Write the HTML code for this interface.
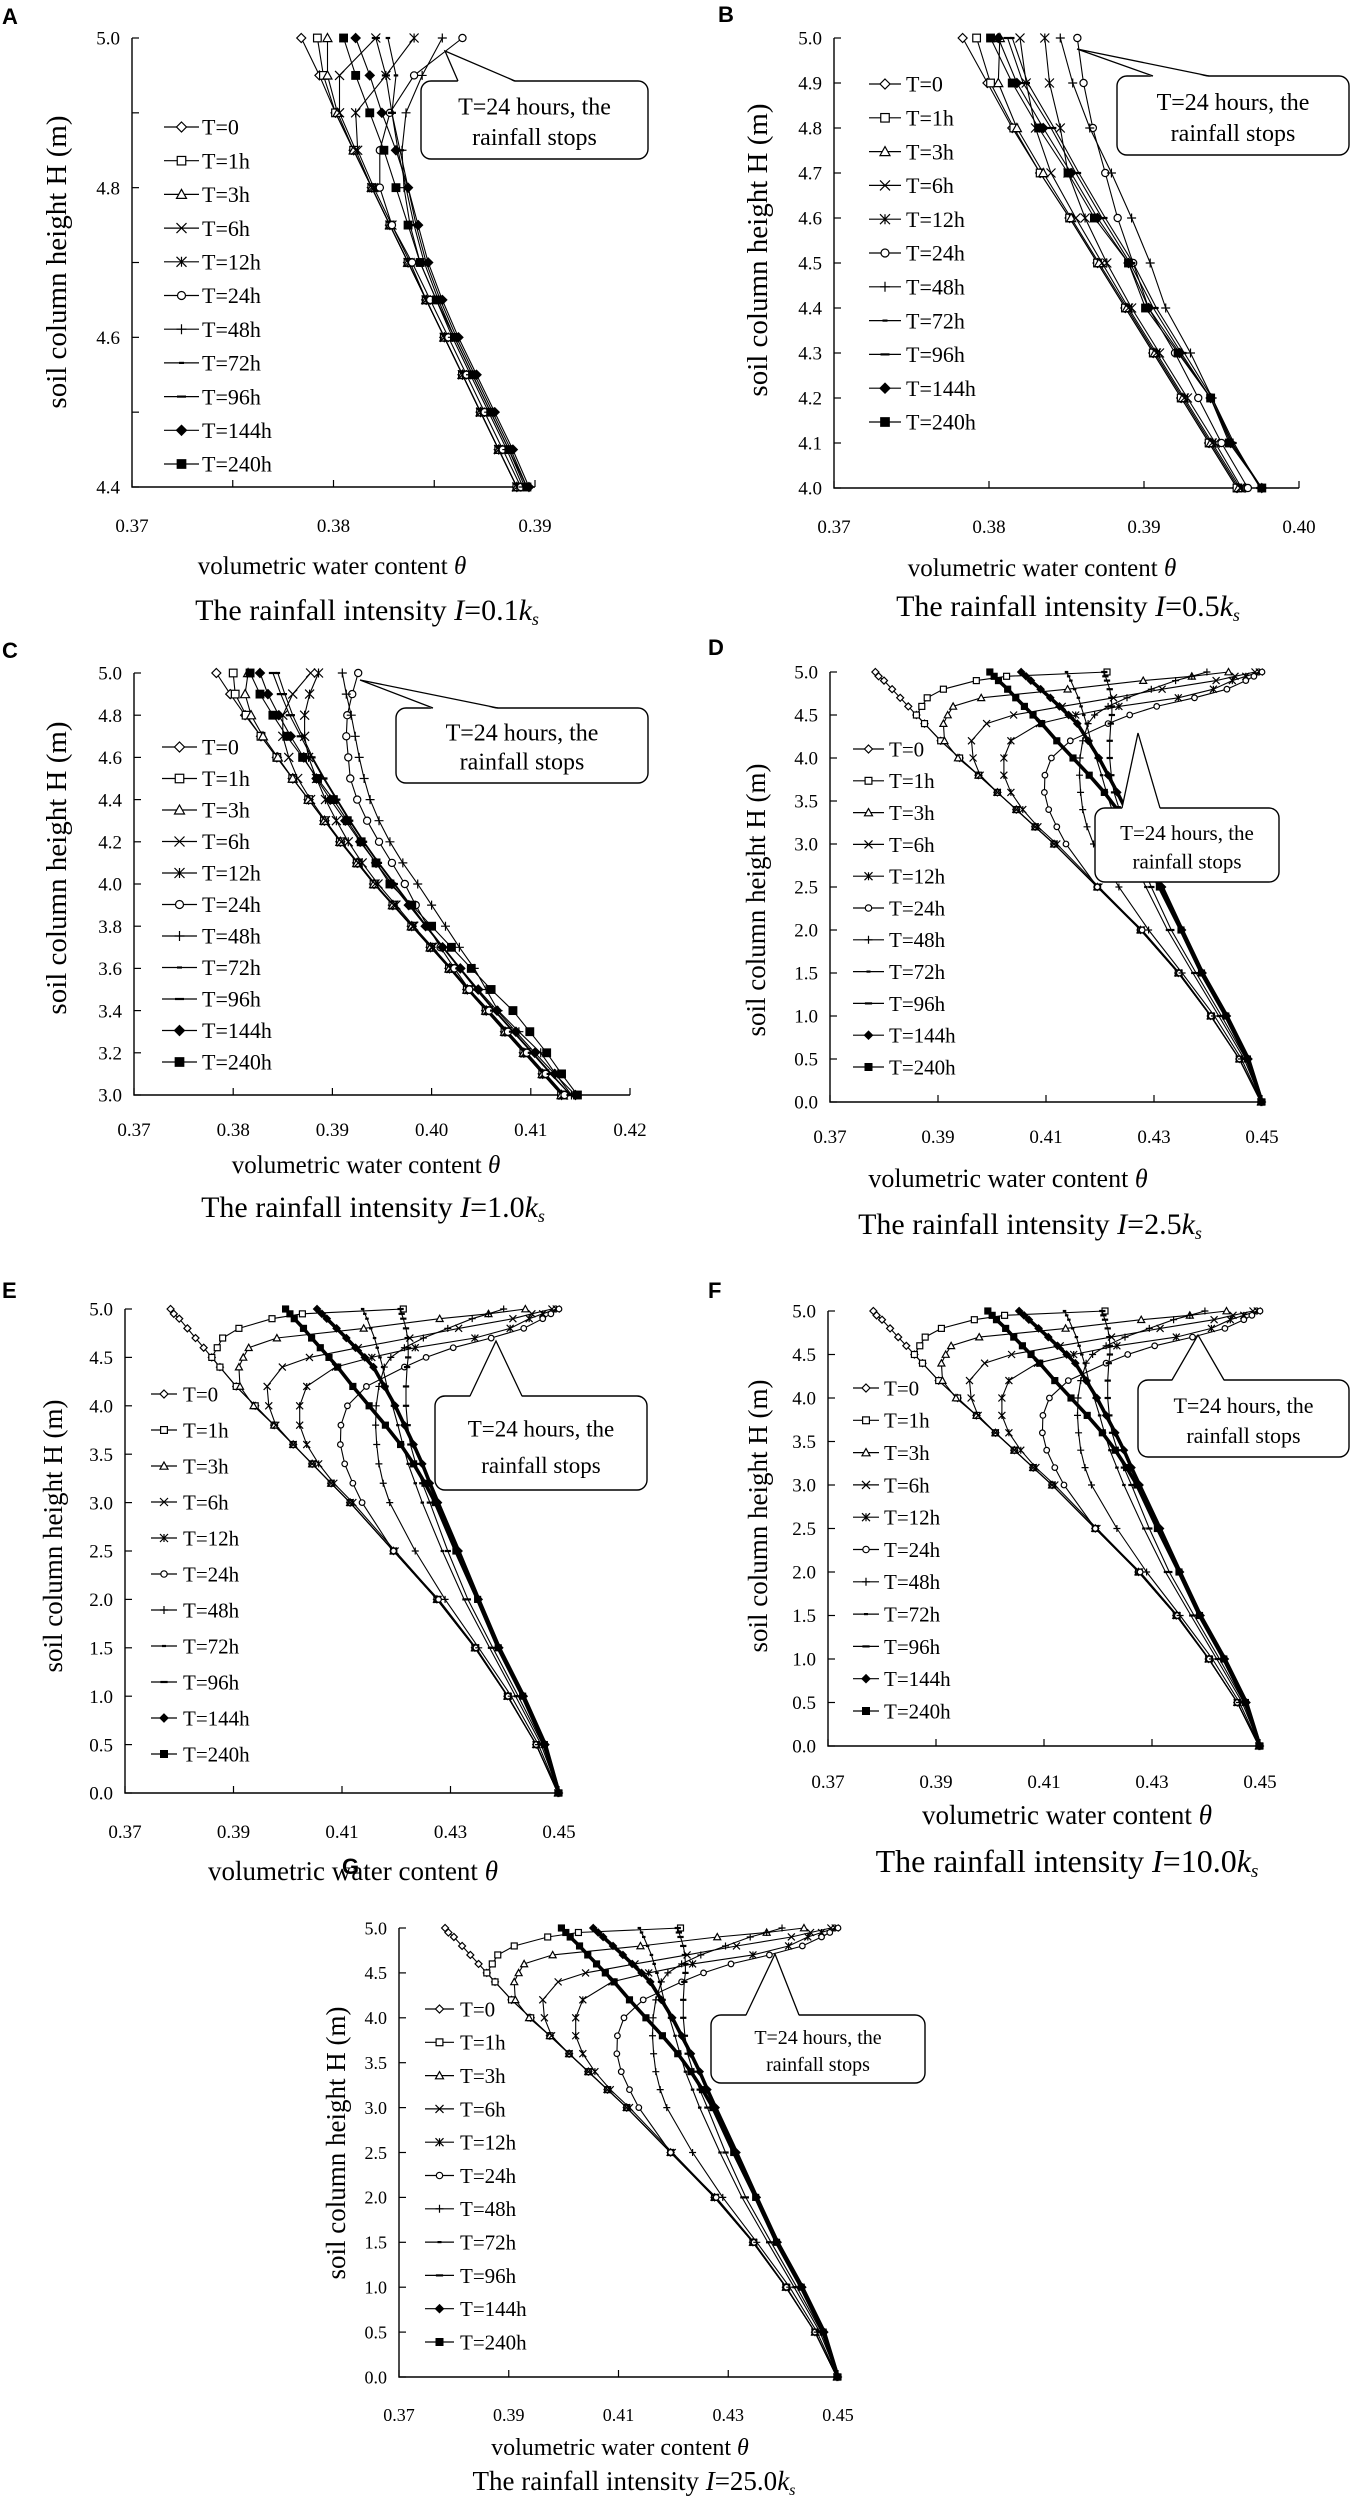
<!DOCTYPE html>
<html><head><meta charset="utf-8">
<style>
html,body{margin:0;padding:0;background:#fff;}
svg{display:block;}
text{font-family:"Liberation Serif",serif;fill:#000;}
.lt{font-family:"Liberation Sans",sans-serif;font-weight:bold;}
</style></head>
<body>
<svg id="fig" width="1352" height="2500" viewBox="0 0 1352 2500" xmlns="http://www.w3.org/2000/svg"></svg>
<script>
// ---------- Data (theta values, top to bottom) ----------
const seriesNames = ['T=0','T=1h','T=3h','T=6h','T=12h','T=24h','T=48h','T=72h','T=96h','T=144h','T=240h'];
const markerTypes = ['diamond','square','triangle','x','star','circle','plus','dash','dash2','fdiamond','fsquare'];

// Panel A: I=0.1ks, heights 5.0 -> 4.4
const heightsA = [5.0,4.95,4.9,4.85,4.8,4.75,4.7,4.65,4.6,4.55,4.5,4.45,4.4];
const panelA_T0   = [.3784,.3793,.3801,.3810,.3819,.3828,.3837,.3846,.3855,.3864,.3873,.3882,.3891];
const panelA_T1   = [.3792,.3795,.3801,.3810,.3819,.3828,.3837,.3846,.3855,.3864,.3873,.3882,.3891];
const panelA_T3   = [.3797,.3797,.3802,.3810,.3819,.3828,.3837,.3846,.3855,.3864,.3873,.3882,.3891];
const panelA_T6   = [.3821,.3803,.3803,.3811,.3819,.3828,.3837,.3846,.3855,.3864,.3873,.3882,.3891];
const panelA_T12  = [.3840,.3826,.3811,.3812,.3820,.3829,.3838,.3846,.3855,.3864,.3873,.3882,.3891];
const panelA_T24  = [.3864,.3840,.3828,.3823,.3823,.3829,.3839,.3848,.3857,.3866,.3875,.3884,.3893];
const panelA_T48  = [.3854,.3844,.3836,.3834,.3835,.3838,.3843,.3851,.3859,.3868,.3877,.3886,.3894];
const panelA_T72  = [.3827,.3831,.3829,.3832,.3836,.3840,.3845,.3852,.3860,.3869,.3878,.3887,.3895];
const panelA_T96  = [.3821,.3826,.3829,.3833,.3837,.3841,.3846,.3853,.3861,.3870,.3879,.3888,.3896];
const panelA_T144 = [.3811,.3818,.3824,.3831,.3837,.3842,.3847,.3854,.3862,.3871,.3880,.3889,.3897];
const panelA_T240 = [.3805,.3811,.3818,.3825,.3831,.3837,.3843,.3851,.3860,.3869,.3878,.3887,.3896];

// Panel B: I=0.5ks, heights 5.0 -> 4.0
const heightsB = [5.0,4.9,4.8,4.7,4.6,4.5,4.4,4.3,4.2,4.1,4.0];
const panelB_T0   = [.3783,.3799,.3815,.3833,.3852,.3870,.3888,.3906,.3924,.3942,.3960];
const panelB_T1   = [.3792,.3801,.3816,.3833,.3852,.3870,.3888,.3906,.3924,.3942,.3960];
const panelB_T3   = [.3807,.3806,.3818,.3835,.3853,.3871,.3889,.3907,.3925,.3943,.3961];
const panelB_T6   = [.3820,.3824,.3830,.3840,.3856,.3873,.3890,.3908,.3926,.3944,.3962];
const panelB_T12  = [.3836,.3839,.3846,.3851,.3862,.3876,.3892,.3910,.3928,.3946,.3963];
const panelB_T24  = [.3857,.3861,.3867,.3875,.3883,.3893,.3903,.3920,.3935,.3950,.3967];
const panelB_T48  = [.3846,.3854,.3865,.3879,.3892,.3904,.3914,.3930,.3944,.3957,.3976];
const panelB_T72  = [.3815,.3825,.3842,.3858,.3875,.3893,.3908,.3926,.3944,.3958,.3975];
const panelB_T96  = [.3812,.3822,.3840,.3856,.3873,.3891,.3906,.3924,.3943,.3957,.3975];
const panelB_T144 = [.3806,.3818,.3835,.3853,.3870,.3890,.3903,.3923,.3943,.3956,.3976];
const panelB_T240 = [.3801,.3815,.3832,.3851,.3868,.3890,.3901,.3922,.3943,.3955,.3976];

// Panel C: I=1.0ks, heights 5.0 -> 3.0
const heightsC = [5.0,4.9,4.8,4.7,4.6,4.5,4.4,4.3,4.2,4.1,4.0,3.9,3.8,3.7,3.6,3.5,3.4,3.3,3.2,3.1,3.0];
const panelC_T0   = [.3783,.3797,.3812,.3828,.3844,.3860,.3876,.3892,.3908,.3925,.3942,.3961,.3980,.3999,.4018,.4036,.4055,.4074,.4093,.4112,.4131];
const panelC_T1   = [.3800,.3802,.3813,.3828,.3844,.3860,.3876,.3892,.3908,.3925,.3942,.3961,.3980,.3999,.4018,.4036,.4055,.4074,.4093,.4112,.4131];
const panelC_T3   = [.3815,.3812,.3818,.3830,.3845,.3860,.3876,.3892,.3908,.3925,.3942,.3961,.3980,.3999,.4018,.4036,.4055,.4074,.4093,.4112,.4131];
const panelC_T6   = [.3878,.3860,.3850,.3850,.3856,.3865,.3878,.3893,.3909,.3926,.3943,.3962,.3981,.4000,.4019,.4037,.4056,.4075,.4094,.4113,.4132];
const panelC_T12  = [.3886,.3877,.3872,.3872,.3876,.3884,.3893,.3904,.3916,.3930,.3946,.3964,.3982,.4001,.4020,.4038,.4057,.4076,.4095,.4114,.4133];
const panelC_T24  = [.3926,.3920,.3915,.3914,.3916,.3918,.3925,.3935,.3947,.3960,.3973,.3984,.3996,.4009,.4023,.4038,.4058,.4077,.4096,.4115,.4134];
const panelC_T48  = [.3910,.3914,.3919,.3923,.3927,.3932,.3938,.3947,.3958,.3971,.3986,.4000,.4014,.4028,.4043,.4055,.4067,.4088,.4110,.4125,.4141];
const panelC_T72  = [.3845,.3852,.3860,.3870,.3880,.3892,.3905,.3918,.3932,.3947,.3963,.3979,.3995,.4012,.4029,.4046,.4064,.4083,.4102,.4121,.4140];
const panelC_T96  = [.3840,.3848,.3857,.3868,.3879,.3891,.3904,.3917,.3931,.3946,.3962,.3978,.3994,.4011,.4028,.4045,.4063,.4082,.4101,.4120,.4140];
const panelC_T144 = [.3827,.3835,.3846,.3858,.3871,.3884,.3898,.3913,.3928,.3944,.3960,.3977,.3994,.4011,.4029,.4047,.4066,.4085,.4104,.4124,.4145];
const panelC_T240 = [.3817,.3827,.3840,.3854,.3870,.3885,.3901,.3915,.3929,.3944,.3958,.3980,.4000,.4020,.4040,.4060,.4082,.4099,.4116,.4131,.4147];

// Panels D-G: high intensity (2.5, 5, 10, 25 ks) — visually near identical profiles
const heightsHigh = [5.0,4.95,4.9,4.8,4.7,4.6,4.5,4.4,4.2,4.0,3.8,3.6,3.4,3.2,3.0,2.5,2.0,1.5,1.0,0.5,0.0];
const high_T0   = [.3784,.379,.380,.3815,.383,.3845,.386,.3875,.3905,.394,.3975,.401,.4045,.408,.4115,.4195,.4275,.4345,.4405,.4458,.4498];
const high_T1   = [.4213,.4027,.3971,.391,.388,.387,.386,.3875,.3905,.394,.3975,.401,.4045,.408,.4115,.4195,.4275,.4345,.4405,.4458,.4498];
const high_T3   = [.4438,.437,.428,.414,.398,.3928,.3918,.391,.3912,.3937,.3975,.401,.4045,.408,.4115,.4195,.4275,.4345,.4405,.4458,.4498];
const high_T6   = [.4487,.445,.4415,.4315,.4225,.413,.404,.399,.3962,.3965,.3978,.401,.4045,.408,.4115,.4195,.4275,.4345,.4405,.4458,.4498];
const high_T12  = [.4495,.447,.4445,.441,.4345,.4235,.4155,.4088,.4035,.4022,.4022,.4035,.4057,.4085,.412,.4198,.4277,.4346,.4405,.4458,.4498];
const high_T24  = [.45,.4485,.447,.4435,.4375,.4305,.4255,.4215,.4145,.411,.4098,.4097,.4105,.412,.4137,.4195,.4278,.4347,.4406,.4458,.4498];
const high_T48  = [.4398,.437,.434,.4295,.425,.4215,.419,.4178,.4168,.4163,.4162,.4164,.4168,.4176,.4188,.4235,.429,.4352,.4412,.4462,.4499];
const high_T72  = [.4138,.4142,.4146,.4153,.416,.4165,.417,.4175,.4183,.4193,.4203,.4212,.4222,.4235,.4248,.4285,.4325,.4372,.442,.4467,.45];
const high_T96  = [.4208,.421,.4213,.4218,.4221,.4222,.4222,.422,.4218,.4218,.4221,.4226,.4236,.4248,.4262,.4295,.4332,.4378,.4425,.447,.45];
const high_T144 = [.4054,.4063,.4072,.409,.4108,.4125,.4142,.4158,.4178,.4198,.4215,.4232,.4248,.4262,.4277,.4315,.4352,.439,.4435,.4475,.45];
const high_T240 = [.3996,.4004,.4012,.4029,.4044,.406,.4076,.4092,.412,.415,.418,.4208,.4232,.4253,.4272,.431,.435,.4388,.4433,.4473,.45];

// Axis ticks
const xTicksA = [0.37,0.38,0.39], yTicksA = [4.4,4.6,4.8,5.0];
const xTicksB = [0.37,0.38,0.39,0.40], yTicksB = [4.0,4.1,4.2,4.3,4.4,4.5,4.6,4.7,4.8,4.9,5.0];
const xTicksC = [0.37,0.38,0.39,0.40,0.41,0.42], yTicksC = [3.0,3.2,3.4,3.6,3.8,4.0,4.2,4.4,4.6,4.8,5.0];
const xTicksHigh = [0.37,0.39,0.41,0.43,0.45], yTicksHigh = [0.0,0.5,1.0,1.5,2.0,2.5,3.0,3.5,4.0,4.5,5.0];

// ---------- Rendering ----------
const NS = 'http://www.w3.org/2000/svg';
const svg = document.getElementById('fig');
function mk(tag, attrs, parent){
  const e = document.createElementNS(NS, tag);
  for (const k in attrs) e.setAttribute(k, attrs[k]);
  (parent||svg).appendChild(e);
  return e;
}

function marker(g, type, x, y, s){
  const h = s/2; let e;
  const st = {stroke:'#000','stroke-width':1.2, fill:'#fff'};
  if (type==='diamond' || type==='fdiamond'){
    e = mk('polygon', Object.assign({}, st, {points:`${x},${y-h} ${x+h},${y} ${x},${y+h} ${x-h},${y}`, fill: type==='fdiamond'?'#000':'#fff'}), g);
  } else if (type==='square' || type==='fsquare'){
    e = mk('rect', Object.assign({}, st, {x:x-h*0.85, y:y-h*0.85, width:h*1.7, height:h*1.7, fill: type==='fsquare'?'#000':'#fff'}), g);
  } else if (type==='triangle'){
    e = mk('polygon', Object.assign({}, st, {points:`${x},${y-h} ${x+h},${y+h*0.8} ${x-h},${y+h*0.8}`}), g);
  } else if (type==='circle'){
    e = mk('circle', Object.assign({}, st, {cx:x, cy:y, r:h*0.8}), g);
  } else if (type==='x'){
    e = mk('path', {d:`M${x-h},${y-h}L${x+h},${y+h}M${x-h},${y+h}L${x+h},${y-h}`, stroke:'#000','stroke-width':1.2, fill:'none'}, g);
  } else if (type==='star'){
    e = mk('path', {d:`M${x-h},${y-h}L${x+h},${y+h}M${x-h},${y+h}L${x+h},${y-h}M${x},${y-h}L${x},${y+h}`, stroke:'#000','stroke-width':1.2, fill:'none'}, g);
  } else if (type==='plus'){
    e = mk('path', {d:`M${x-h},${y}L${x+h},${y}M${x},${y-h}L${x},${y+h}`, stroke:'#000','stroke-width':1.2, fill:'none'}, g);
  } else if (type==='dash'){
    e = mk('path', {d:`M${x-h*0.5},${y}L${x+h*0.5},${y}`, stroke:'#000','stroke-width':2.2, fill:'none'}, g);
  } else {
    e = mk('path', {d:`M${x-h*0.9},${y}L${x+h*0.9},${y}`, stroke:'#000','stroke-width':2.2, fill:'none'}, g);
  }
  
  
}

function drawPanel(p){
  const g = mk('g', {});
  
  
  const sx = v => p.L + (v - p.xmin)/(p.xmax - p.xmin)*(p.R - p.L);
  const sy = v => p.B - (v - p.ymin)/(p.ymax - p.ymin)*(p.B - p.T);

  const lt = mk('text', {x:p.letter[0], y:p.letter[1], 'font-size':22, class:'lt'}, g);
  lt.textContent = p.id;
  
  

  const ax = mk('path', {d:`M${p.L},${p.T}L${p.L},${p.B}L${p.R},${p.B}`, stroke:'#000', 'stroke-width':1.4, fill:'none'}, g);
  
  
  p.xTickMarks.forEach(v => { mk('line', {x1:sx(v), x2:sx(v), y1:p.B, y2:p.B-7, stroke:'#000','stroke-width':1.2}, g); });
  p.xTicks.forEach(v => {
    const t = mk('text', {x:sx(v), y:p.xLabY, 'font-size':p.fs, 'text-anchor':'middle'}, g);
    t.textContent = v.toFixed(2);
    
    
  });
  p.yTickMarks.forEach(v => { mk('line', {x1:p.L, x2:p.L+7, y1:sy(v), y2:sy(v), stroke:'#000','stroke-width':1.2}, g); });
  p.yTicks.forEach(v => {
    const t = mk('text', {x:p.L-12, y:sy(v)+p.fs*0.35, 'font-size':p.fs, 'text-anchor':'end'}, g);
    t.textContent = v.toFixed(1);
    
    
  });
  const xtitle = mk('text', {x:p.xTitle[0], y:p.xTitle[1], 'font-size':p.tfs, 'text-anchor':'middle'}, g);
  xtitle.innerHTML = 'volumetric water content <tspan font-style="italic">θ</tspan>';
  
  
  const ytitle = mk('text', {x:0, y:0, 'font-size':p.yfs, 'text-anchor':'middle', transform:`translate(${p.yTitle[0]},${p.yTitle[1]}) rotate(-90)`}, g);
  ytitle.textContent = 'soil column height  H (m)';
  
  
  if (p.title){
    const tt = mk('text', {x:p.title[0], y:p.title[1], 'font-size':p.tifs, 'text-anchor':'middle'}, g);
    tt.innerHTML = 'The rainfall intensity <tspan font-style="italic">I</tspan>=' + p.intensity + '<tspan font-style="italic">k</tspan><tspan font-style="italic" font-size="' + (p.tifs*0.6) + '" dy="5">s</tspan>';
    
    
  }

  p.series.forEach((vals, i) => {
    const sg = mk('g', {}, g);
    
    
    const n = Math.min(vals.length, p.heights.length);
    let d = '';
    for (let k=0;k<n;k++){ d += (k?'L':'M') + sx(vals[k]).toFixed(1) + ',' + sy(p.heights[k]).toFixed(1); }
    const thick = p.thick && i >= 9;
    const ln = mk('path', {d:d, stroke:'#000', 'stroke-width': thick ? 3.6 : 1.1, fill:'none'}, sg);
    
    
    for (let k=0;k<n;k++) marker(sg, markerTypes[i], sx(vals[k]), sy(p.heights[k]), p.ms);
  });

  const lg = mk('g', {}, g);
  
  
  seriesNames.forEach((nm, i) => {
    const y = p.leg.y + i*p.leg.step;
    const eg = mk('g', {}, lg);
    
    
    mk('line', {x1:p.leg.x1, x2:p.leg.x2, y1:y, y2:y, stroke:'#000','stroke-width':1.2}, eg);
    marker(eg, markerTypes[i], (p.leg.x1+p.leg.x2)/2, y, p.ms+1);
    const t = mk('text', {x:p.leg.tx, y:y+p.lfs*0.35, 'font-size':p.lfs}, eg);
    t.textContent = nm;
  });

  const c = p.call;
  const cg = mk('g', {}, g);
  
  
  mk('rect', {x:c.x, y:c.y, width:c.w, height:c.h, rx:10, fill:'#fff', stroke:'#000','stroke-width':1.4}, cg);
  mk('polygon', {points:`${c.b1},${c.y+1} ${c.tip[0]},${c.tip[1]} ${c.b2},${c.y+1}`, fill:'#fff', stroke:'none'}, cg);
  mk('path', {d:`M${c.b1},${c.y}L${c.tip[0]},${c.tip[1]}L${c.b2},${c.y}`, fill:'none', stroke:'#000','stroke-width':1.3}, cg);
  const t1 = mk('text', {x:c.x+c.w/2, y:c.y+c.h*0.43, 'font-size':c.fs, 'text-anchor':'middle'}, cg);
  t1.textContent = 'T=24 hours, the';
  const t2 = mk('text', {x:c.x+c.w/2, y:c.y+c.h*0.82, 'font-size':c.fs, 'text-anchor':'middle'}, cg);
  t2.textContent = 'rainfall stops';
}

function range(a,b,s){ const r=[]; for(let v=a; v<=b+1e-9; v+=s) r.push(+v.toFixed(4)); return r; }
const highSeries = [high_T0,high_T1,high_T3,high_T6,high_T12,high_T24,high_T48,high_T72,high_T96,high_T144,high_T240];

const panels = [
 {id:'A', letter:[2,24], L:132,R:535,T:38,B:487, xmin:.37,xmax:.39,ymin:4.4,ymax:5.0,
  xTicks:xTicksA, xTickMarks:range(.37,.39,.005), yTicks:yTicksA, yTickMarks:range(4.4,5.0,0.1),
  xLabY:532, fs:19, tfs:25, yfs:29, tifs:30, lfs:22, ms:9,
  xTitle:[332,574], yTitle:[66,262], title:[367,620], intensity:'0.1',
  heights:heightsA, series:[panelA_T0,panelA_T1,panelA_T3,panelA_T6,panelA_T12,panelA_T24,panelA_T48,panelA_T72,panelA_T96,panelA_T144,panelA_T240],
  leg:{x1:164,x2:199,tx:202,y:127,step:33.7},
  call:{x:421,y:81,w:227,h:78,b1:458,b2:515,tip:[445,51],fs:24}},
 {id:'B', letter:[718,22], L:834,R:1299,T:38,B:488, xmin:.37,xmax:.40,ymin:4.0,ymax:5.0,
  xTicks:xTicksB, xTickMarks:xTicksB, yTicks:yTicksB, yTickMarks:yTicksB,
  xLabY:533, fs:19, tfs:25, yfs:29, tifs:30, lfs:22, ms:9,
  xTitle:[1042,576], yTitle:[767,250], title:[1068,616], intensity:'0.5',
  heights:heightsB, series:[panelB_T0,panelB_T1,panelB_T3,panelB_T6,panelB_T12,panelB_T24,panelB_T48,panelB_T72,panelB_T96,panelB_T144,panelB_T240],
  leg:{x1:869,x2:901,tx:906,y:84,step:33.8},
  call:{x:1117,y:76,w:232,h:79,b1:1153,b2:1209,tip:[1077,49],fs:24}},
 {id:'C', letter:[2,658], L:134,R:630,T:673,B:1095, xmin:.37,xmax:.42,ymin:3.0,ymax:5.0,
  xTicks:xTicksC, xTickMarks:xTicksC, yTicks:yTicksC, yTickMarks:yTicksC,
  xLabY:1136, fs:19, tfs:25, yfs:29, tifs:30, lfs:22, ms:9,
  xTitle:[366,1173], yTitle:[66,868], title:[373,1217], intensity:'1.0',
  heights:heightsC, series:[panelC_T0,panelC_T1,panelC_T3,panelC_T6,panelC_T12,panelC_T24,panelC_T48,panelC_T72,panelC_T96,panelC_T144,panelC_T240],
  leg:{x1:162,x2:197,tx:202,y:747,step:31.5},
  call:{x:396,y:708,w:252,h:75,b1:433,b2:498,tip:[360,680],fs:24}},
 {id:'D', letter:[708,655], L:830,R:1262,T:672,B:1102, xmin:.37,xmax:.45,ymin:0,ymax:5.0,
  xTicks:xTicksHigh, xTickMarks:xTicksHigh, yTicks:yTicksHigh, yTickMarks:yTicksHigh,
  xLabY:1143, fs:19, tfs:26, yfs:27, tifs:30, lfs:21, ms:7, thick:true,
  xTitle:[1008,1187], yTitle:[765,900], title:[1030,1234], intensity:'2.5',
  heights:heightsHigh, series:highSeries,
  leg:{x1:853,x2:884,tx:889,y:749,step:31.8},
  call:{x:1095,y:808,w:184,h:74,b1:1122,b2:1160,tip:[1138,733],fs:21}},
 {id:'E', letter:[2,1298], L:125,R:559,T:1309,B:1793, xmin:.37,xmax:.45,ymin:0,ymax:5.0,
  xTicks:xTicksHigh, xTickMarks:xTicksHigh, yTicks:yTicksHigh, yTickMarks:yTicksHigh,
  xLabY:1838, fs:19, tfs:27, yfs:27, tifs:30, lfs:21, ms:7, thick:true,
  xTitle:[353,1880], yTitle:[62,1536], title:null, intensity:'5.0',
  heights:heightsHigh, series:highSeries,
  leg:{x1:151,x2:177,tx:183,y:1394,step:36},
  call:{x:435,y:1396,w:212,h:94,b1:470,b2:522,tip:[496,1341],fs:23}},
 {id:'F', letter:[708,1298], L:828,R:1260,T:1311,B:1746, xmin:.37,xmax:.45,ymin:0,ymax:5.0,
  xTicks:xTicksHigh, xTickMarks:xTicksHigh, yTicks:yTicksHigh, yTickMarks:yTicksHigh,
  xLabY:1788, fs:19, tfs:27, yfs:27, tifs:32, lfs:21, ms:7, thick:true,
  xTitle:[1067,1824], yTitle:[767,1516], title:[1067,1872], intensity:'10.0',
  heights:heightsHigh, series:highSeries,
  leg:{x1:853,x2:879,tx:884,y:1388,step:32.3},
  call:{x:1138,y:1380,w:211,h:77,b1:1172,b2:1224,tip:[1198,1335],fs:22}},
 {id:'G', letter:[342,1874], L:399,R:838,T:1928,B:2377, xmin:.37,xmax:.45,ymin:0,ymax:5.0,
  xTicks:xTicksHigh, xTickMarks:xTicksHigh, yTicks:yTicksHigh, yTickMarks:yTicksHigh,
  xLabY:2421, fs:18, tfs:24, yfs:27, tifs:27, lfs:21, ms:7, thick:true,
  xTitle:[620,2455], yTitle:[345,2143], title:[634,2490], intensity:'25.0',
  heights:heightsHigh, series:highSeries,
  leg:{x1:425,x2:454,tx:460,y:2009,step:33.3},
  call:{x:711,y:2015,w:214,h:68,b1:746,b2:799,tip:[775,1954],fs:20}}
];
panels.forEach(drawPanel);
</script>
</body></html>
